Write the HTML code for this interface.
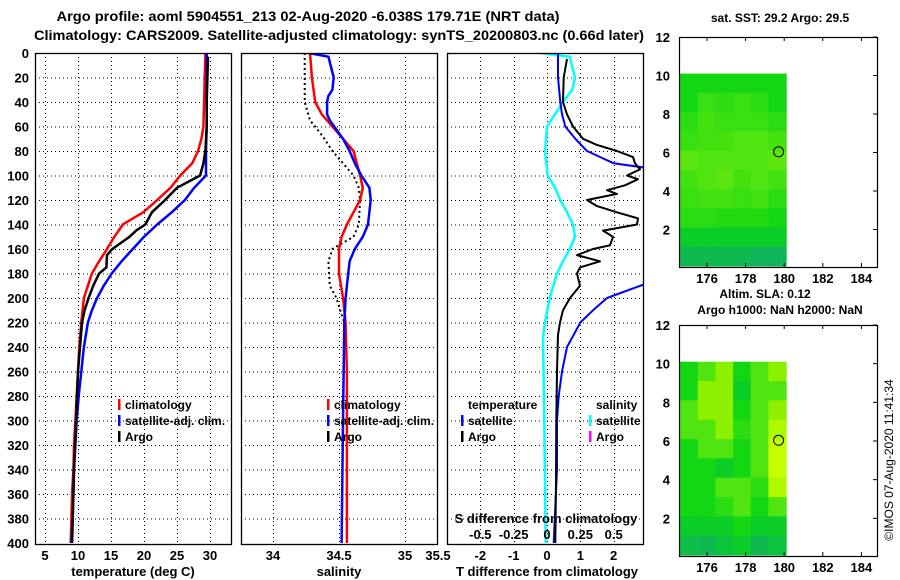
<!DOCTYPE html>
<html><head><meta charset="utf-8"><style>
html,body{margin:0;padding:0;background:#fff;}
svg{display:block;font-family:"Liberation Sans",sans-serif;font-weight:bold;}
</style></head><body>
<svg id="fig" width="900" height="580" viewBox="0 0 900 580" xmlns="http://www.w3.org/2000/svg">
<rect width="900" height="580" fill="#fff"/>
<text x="308" y="21" font-size="14" text-anchor="middle" textLength="503" lengthAdjust="spacingAndGlyphs">Argo profile: aoml 5904551_213 02-Aug-2020 -6.038S 179.71E (NRT data)</text>
<text x="339" y="40" font-size="14" text-anchor="middle" textLength="610" lengthAdjust="spacingAndGlyphs">Climatology: CARS2009. Satellite-adjusted climatology: synTS_20200803.nc (0.66d later)</text>
<g id="panels"></g>
<g id="maps"></g>
<text transform="translate(893,460) rotate(-90)" font-size="12" font-weight="normal" text-anchor="middle">©IMOS 07-Aug-2020 11:41:34</text>
</svg>
<script>
// ---- depth grids and profile data ----
const tClimDepth = [0,20,40,60,70,80,90,100,110,120,130,135,140,150,160,170,180,200,220,240,260,280,300,320,340,360,380,400];
const tClimVal   = [29.3,29.2,29.1,29.0,28.7,28.2,27.3,25.5,24.0,22.0,19.9,18.3,16.8,15.5,14.4,13.2,12.1,10.9,10.5,10.2,10.0,9.8,9.6,9.4,9.3,9.1,9.0,8.9];
const tSatDepth  = [0,20,40,60,80,100,105,110,120,130,140,150,160,170,180,190,200,210,220,240,260,280,300,320,340,360,380,400];
const tSatVal    = [29.5,29.5,29.5,29.5,29.4,29.4,28.5,27.6,26.2,24.2,22.0,20.0,18.3,16.6,15.1,13.9,12.9,12.1,11.5,10.9,10.5,10.1,9.8,9.6,9.4,9.3,9.2,9.0];
const tArgoDepth = [3,20,40,60,80,90,100,110,120,130,140,145,150,160,165,175,180,190,200,210,220,240,260,300,340,400];
const tArgoVal   = [29.7,29.6,29.5,29.5,29.3,29.0,28.5,25.0,23.2,21.2,20.2,18.8,17.8,15.2,14.4,14.3,13.2,12.3,11.6,11.0,10.6,10.3,10.0,9.7,9.4,9.1];

const sClimDepth = [0,20,40,50,60,70,80,100,110,120,140,150,160,180,200,220,260,300,350,400];
const sClimVal   = [34.28,34.295,34.32,34.37,34.45,34.53,34.61,34.66,34.68,34.66,34.56,34.52,34.50,34.50,34.53,34.55,34.56,34.56,34.56,34.56];
const sSatDepth  = [0,3,20,30,35,40,50,55,70,80,90,100,110,120,140,150,160,170,180,200,220,300,400];
const sSatVal    = [34.27,34.42,34.46,34.45,34.42,34.41,34.41,34.43,34.53,34.58,34.62,34.67,34.73,34.74,34.72,34.68,34.62,34.58,34.57,34.55,34.54,34.53,34.52];
const sArgoDepth = [0,40,55,60,70,80,90,100,110,120,140,150,160,170,190,200,210,220];
const sArgoVal   = [34.24,34.24,34.28,34.32,34.39,34.45,34.53,34.61,34.65,34.66,34.65,34.61,34.45,34.42,34.43,34.48,34.51,34.54];

const dTSatDepth = [0,20,40,50,60,70,80,85,90,95,185,200,210,220,230,240,260,280,300,340,400];
const dTSatVal   = [0.33,0.33,0.40,0.45,0.55,0.85,1.2,1.6,2.0,3.3,3.3,1.8,1.38,1.0,0.8,0.6,0.45,0.35,0.3,0.3,0.2];
const dTArgoDepth= [5,20,40,50,60,70,75,80,85,90,95,100,103,108,112,115,120,125,130,135,140,145,150,157,160,165,170,175,180,190,200,210,220,230,260,300,350,400];
const dTArgoVal  = [0.6,0.5,0.48,0.6,0.78,1.08,1.5,2.1,2.58,2.64,2.79,2.4,2.73,2.34,1.8,2.1,1.2,1.5,2.1,2.73,2.7,1.68,1.98,1.89,1.38,0.9,1.59,0.99,0.9,0.99,0.69,0.48,0.39,0.33,0.3,0.28,0.27,0.25];
const dSSatDepth = [0,3,20,30,40,50,60,80,100,110,120,130,140,150,160,170,180,200,220,232,300,400];
const dSSatVal   = [-0.04,0.17,0.21,0.19,0.12,0.06,0.0,-0.015,0.005,0.06,0.10,0.15,0.195,0.21,0.17,0.12,0.075,0.02,-0.015,-0.03,-0.02,-0.01];

const tempTicks = [5,10,15,20,25,30];
const salTicks  = [34,34.5,35];
const dTTicks   = [-2,-1,0,1,2];
const dSTicks   = [-0.5,-0.25,0,0.25,0.5];
const depthTicks= [0,20,40,60,80,100,120,140,160,180,200,220,240,260,280,300,320,340,360,380,400];

// map data (coarse grids, rows from lat 10 down to 0, 6 columns west->east)
const sstGrid = [
 [1,1,1,1,1,1],
 [1,1.3,1.2,1.3,1.2,1],
 [1.2,1.4,1.3,1.3,1.3,1.2],
 [1.3,1.4,1.4,1.5,1.5,1.4],
 [1.6,1.5,1.5,1.5,1.5,1.6],
 [1.4,1.5,1.6,1.4,1.5,1.4],
 [1.3,1.4,1.4,1.3,1.4,1.2],
 [1.2,1.2,1.1,1.1,1.1,1.0],
 [0.8,0.8,0.8,0.8,0.8,0.8],
 [0.4,0.4,0.4,0.4,0.3,0.3]];
const slaGrid = [
 [1,1.5,2,1,1.5,2],
 [1,2,2,0.8,1.5,1.5],
 [1.5,2,2,1,1.5,2],
 [1.5,1.5,2,1.2,1.5,2.5],
 [1,1.5,1.5,1,1.5,2.8],
 [1,1,0.8,1,1.5,2.8],
 [1,1,1.5,1.5,1.2,2.5],
 [1,1,1.2,1.5,1,1.5],
 [0.8,0.8,0.8,1,0.8,0.8],
 [0.5,0.4,0.6,0.8,0.4,0.6]];
const mapXTicks = [176,178,180,182,184];
const mapYTicks = [2,4,6,8,10,12];
const argoLon = 179.71, argoLat = 6.038;

const NS="http://www.w3.org/2000/svg";
function mk(tag,attrs,parent){const e=document.createElementNS(NS,tag);for(const k in attrs)e.setAttribute(k,attrs[k]);parent.appendChild(e);return e;}

const top0=53, bot=543;
const yD = d => top0 + d*(bot-top0)/400;
const xT = t => 45 + (t-5)*6.6;
const xS = s => 273 + (s-34)*132;
const xDT = v => 547 + v*33.33;
const xDS = v => 547 + v*133.3;

const panels=document.getElementById('panels');
const boxes=[{x0:35,x1:231,name:'temperature-panel'},{x0:241,x1:437,name:'salinity-panel'},{x0:447,x1:643,name:'difference-panel'}];

function line(depths,vals,sx,color,w,g,name,dash){
  let d='';
  for(let i=0;i<depths.length;i++){d+=(i?'L':'M')+sx(vals[i]).toFixed(1)+','+yD(depths[i]).toFixed(1);}
  const p=mk('path',{d:d,fill:'none',stroke:color,'stroke-width':w,'stroke-linejoin':'round'},g);
  if(dash)p.setAttribute('stroke-dasharray',dash);
  
  
  return p;
}
function txt(x,y,s,g,name,anchor,size){
  const t=mk('text',{x:x,y:y,'font-size':size||12,'text-anchor':anchor||'start'},g);
  t.textContent=s;
  
  
  return t;
}

boxes.forEach((b,i)=>{
  const g=mk('g',{},panels);
  
  
  mk('clipPath',{id:'clip'+i},g).appendChild(document.createElementNS(NS,'rect'));
  const cr=g.querySelector('clipPath rect');cr.setAttribute('x',b.x0);cr.setAttribute('y',top0);cr.setAttribute('width',b.x1-b.x0);cr.setAttribute('height',bot-top0+2);
  const grid=mk('g',{stroke:'#000','stroke-width':1,'stroke-dasharray':'1,3'},g);
  
  
  depthTicks.forEach(d=>{ if(d>0&&d<400) mk('line',{x1:b.x0,x2:b.x1,y1:yD(d)+0.5,y2:yD(d)+0.5},grid);});
  const ticks = i==0?tempTicks:(i==1?salTicks:dTTicks);
  const sx = i==0?xT:(i==1?xS:xDT);
  ticks.forEach(t=>{const x=Math.round(sx(t))+0.5; if(x>b.x0+1&&x<b.x1-1) mk('line',{x1:x,x2:x,y1:top0,y2:bot},grid);});
  b.g=g; b.clip='url(#clip'+i+')';
  ticks.forEach(t=>txt(sx(t),560,String(t),g,'x-tick-label','middle',13));
});
txt(438,560,'35.5',boxes[1].g,'x-tick-label','middle',13);
// depth labels
depthTicks.forEach(d=>txt(29,yD(d)+5,String(d),panels,'y-tick-label','end',13));

// Panel 1
const g1=mk('g',{'clip-path':boxes[0].clip},boxes[0].g);
line(tClimDepth,tClimVal,xT,'#ff0000',2.5,g1,'temperature-climatology-line');
line(tSatDepth,tSatVal,xT,'#0000ff',2.5,g1,'temperature-satellite-line');
line(tArgoDepth,tArgoVal,xT,'#000',2.5,g1,'temperature-argo-line');
txt(133,576,'temperature (deg C)',boxes[0].g,'x-axis-title','middle',13);
// Panel 2
const g2=mk('g',{'clip-path':boxes[1].clip},boxes[1].g);
line(sArgoDepth,sArgoVal,xS,'#000',2,g2,'salinity-argo-line','2,3');
line(sClimDepth,sClimVal,xS,'#ff0000',2.5,g2,'salinity-climatology-line');
line(sSatDepth,sSatVal,xS,'#0000ff',2.5,g2,'salinity-satellite-line');
txt(339,576,'salinity',boxes[1].g,'x-axis-title','middle',13);
// Panel 3
const g3=mk('g',{'clip-path':boxes[2].clip},boxes[2].g);
line(dSSatDepth,dSSatVal,xDS,'#00ffff',2.5,g3,'salinity-diff-satellite-line');
line(dTSatDepth,dTSatVal,xDT,'#0000ff',2,g3,'temperature-diff-satellite-line');
line(dTArgoDepth,dTArgoVal,xDT,'#000',2,g3,'temperature-diff-argo-line');
txt(547,576,'T difference from climatology',boxes[2].g,'x-axis-title','middle',13);
txt(546,523,'S difference from climatology',boxes[2].g,'s-axis-title','middle',13);
dSTicks.forEach(t=>txt(xDS(t),539,String(t),boxes[2].g,'s-tick-label','middle',13));

// frames on top
boxes.forEach(b=>{const r=mk('rect',{x:b.x0+0.5,y:top0+0.5,width:b.x1-b.x0,height:bot-top0+1,fill:'none',stroke:'#000','stroke-width':1.3},b.g);
  
  });

// legends
function legItem(x,y,color,label,g){
  const r=mk('rect',{x:x,y:y-10,width:2.5,height:11,fill:color},g);
  
  
  txt(x+7,y,label,g,'legend-entry','start',12);
}
[[0,118],[1,327]].forEach(([i,x])=>{
  const g=mk('g',{},boxes[i].g);
  
  
  legItem(x,409,'#ff0000','climatology',g);
  legItem(x,425,'#0000ff','satellite-adj. clim.',g);
  legItem(x,441,'#000','Argo',g);
});
{
  const g=mk('g',{},boxes[2].g);
  
  
  txt(468,409,'temperature',g,'legend-heading','start',12);
  txt(596,409,'salinity',g,'legend-heading','start',12);
  legItem(461,425,'#0000ff','satellite',g);
  legItem(461,441,'#000','Argo',g);
  legItem(589,425,'#00ffff','satellite',g);
  legItem(589,441,'#ff00ff','Argo',g);
}

// ---- maps ----
const mapsG=document.getElementById('maps');
function valColor(v){
  const stops=[[0.3,[16,180,90]],[0.8,[10,205,40]],[1.0,[20,215,20]],[1.5,[80,228,16]],[2.0,[140,240,0]],[2.8,[195,255,0]]];
  if(v<=stops[0][0])return 'rgb('+stops[0][1]+')';
  for(let i=1;i<stops.length;i++){if(v<=stops[i][0]){const a=stops[i-1],b=stops[i],f=(v-a[0])/(b[0]-a[0]);
    return 'rgb('+a[1].map((c,k)=>Math.round(c+(b[1][k]-c)*f)).join(',')+')';}}
  return 'rgb('+stops[stops.length-1][1]+')';
}
function drawMap(top,bottom,grid,name,title,titleY){
  const g=mk('g',{},mapsG);
  
  
  const left=679,right=877;
  const yL = v => bottom + 1 - v*(bottom+1-top)/12;
  const xL = v => 707 + (v-176)*19.3;
  const rows=grid.length, cols=grid[0].length;
  const lon0=174.6, lon1=180.1, lat0=10.1, lat1=0.1;
  for(let r=0;r<rows;r++)for(let c=0;c<cols;c++){
    const x0=xL(lon0+(lon1-lon0)*c/cols), x1=xL(lon0+(lon1-lon0)*(c+1)/cols);
    const y0=yL(lat0+(lat1-lat0)*r/rows), y1=yL(lat0+(lat1-lat0)*(r+1)/rows);
    const cell=mk('rect',{x:x0.toFixed(1),y:y0.toFixed(1),width:(x1-x0+0.6).toFixed(1),height:(y1-y0+0.6).toFixed(1),fill:valColor(grid[r][c])},g);
    
    
  }
  const fr=mk('rect',{x:left+0.5,y:top+0.5,width:right-left,height:bottom-top,fill:'none',stroke:'#000','stroke-width':1.2},g);
  
  
  mapXTicks.forEach(t=>{const x=xL(t);
    mk('line',{x1:x,x2:x,y1:top,y2:top+4,stroke:'#000'},g);
    mk('line',{x1:x,x2:x,y1:bottom-4,y2:bottom,stroke:'#000'},g);
    txt(x,bottom+16,String(t),g,'map-x-tick-label','middle',13);});
  mapYTicks.forEach(t=>{const y=yL(t);
    mk('line',{x1:right-4,x2:right,y1:y,y2:y,stroke:'#000'},g);
    txt(670,y+5,String(t),g,'map-y-tick-label','end',13);});
  const c=mk('circle',{cx:xL(argoLon),cy:yL(argoLat),r:5,fill:'none',stroke:'#000','stroke-width':1},g);
  
  
  txt(780,titleY,title,g,'map-title','middle',12);
}
drawMap(37,267,sstGrid,'sst-map','sat. SST: 29.2  Argo: 29.5',22);
drawMap(325,556,slaGrid,'sla-map','Argo h1000: NaN h2000: NaN',314);
txt(765,298,'Altim. SLA: 0.12',mapsG,'sla-label','middle',12);
</script>
</body></html>
